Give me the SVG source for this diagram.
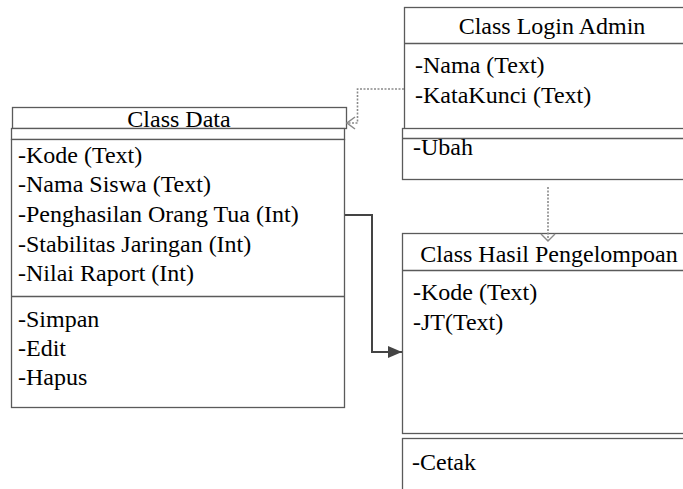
<svg xmlns="http://www.w3.org/2000/svg" width="683" height="489" viewBox="0 0 683 489">
  <style>
    .box { fill: #ffffff; stroke: #5a5a5a; stroke-width: 1.3; }
    .sep { stroke: #5a5a5a; stroke-width: 1.3; }
    text { font-size: 24px; fill: #000; }
    .title { text-anchor: middle; }
    .dot { fill: none; stroke: #8a8a8a; stroke-width: 1.6; stroke-dasharray: 2 1.5; }
    .solid { fill: none; stroke: #444; stroke-width: 2; }
  </style>
  <defs>
    <marker id="filled" markerWidth="14" markerHeight="12" refX="14" refY="6" orient="auto" markerUnits="userSpaceOnUse">
      <path d="M0,0 L14,6 L0,12 Z" fill="#444"/>
    </marker>
    <marker id="open" markerWidth="10" markerHeight="14" refX="9" refY="7" orient="auto" markerUnits="userSpaceOnUse">
      <path d="M1,1 L9,7 L1,13" fill="none" stroke="#8a8a8a" stroke-width="1.5"/>
    </marker>
    <marker id="tri" markerWidth="12" markerHeight="16" refX="8" refY="8" orient="auto" markerUnits="userSpaceOnUse">
      <path d="M1,1 L8,8 L1,15" fill="none" stroke="#8a8a8a" stroke-width="1.4"/>
    </marker>
  </defs>

  <!-- Class Data -->
  <g id="class-data" font-family="Liberation Serif, Times New Roman, serif">
    <rect class="box" x="12.5" y="107.5" width="334" height="21"/>
    <rect class="box" x="11.5" y="128.5" width="333" height="11"/>
    <rect class="box" x="11.5" y="139.5" width="333" height="268"/>
    <line class="sep" x1="11.5" y1="296.5" x2="344.5" y2="296.5"/>
    <text class="title" x="179" y="127">Class Data</text>
    <text x="18" y="163">-Kode (Text)</text>
    <text x="18" y="192">-Nama Siswa (Text)</text>
    <text x="18" y="222">-Penghasilan Orang Tua (Int)</text>
    <text x="18" y="252">-Stabilitas Jaringan (Int)</text>
    <text x="18" y="281">-Nilai Raport (Int)</text>
    <text x="18" y="327">-Simpan</text>
    <text x="18" y="356">-Edit</text>
    <text x="18" y="385">-Hapus</text>
  </g>

  <!-- Class Login Admin -->
  <g id="class-login-admin" font-family="Liberation Serif, Times New Roman, serif">
    <rect class="box" x="404.5" y="7.5" width="296" height="131"/>
    <line class="sep" x1="404.5" y1="43.5" x2="700" y2="43.5"/>
    <rect class="box" x="402.5" y="128.5" width="298" height="51"/>
    <line class="sep" x1="402.5" y1="138.5" x2="700" y2="138.5"/>
    <text class="title" x="552" y="34">Class Login Admin</text>
    <text x="415" y="73">-Nama (Text)</text>
    <text x="415" y="103">-KataKunci (Text)</text>
    <text x="413" y="155">-Ubah</text>
  </g>

  <!-- Class Hasil Pengelompoan -->
  <g id="class-hasil-pengelompoan" font-family="Liberation Serif, Times New Roman, serif">
    <rect class="box" x="402.5" y="233.5" width="298" height="200"/>
    <line class="sep" x1="402.5" y1="270.5" x2="700" y2="270.5"/>
    <rect class="box" x="402.5" y="438.5" width="298" height="60"/>
    <text class="title" x="549" y="262">Class Hasil Pengelompoan</text>
    <text x="413" y="300">-Kode (Text)</text>
    <text x="413" y="330">-JT(Text)</text>
    <text x="412" y="470">-Cetak</text>
  </g>

  <!-- Connectors -->
  <g id="connectors">
    <path class="dot" d="M404,89 H357.5 V123 H347" marker-end="url(#open)"/>
    <path class="dot" d="M548,187 V241" marker-end="url(#tri)"/>
    <path class="solid" d="M345,215 H372 V352 H402" marker-end="url(#filled)"/>
  </g>
</svg>
